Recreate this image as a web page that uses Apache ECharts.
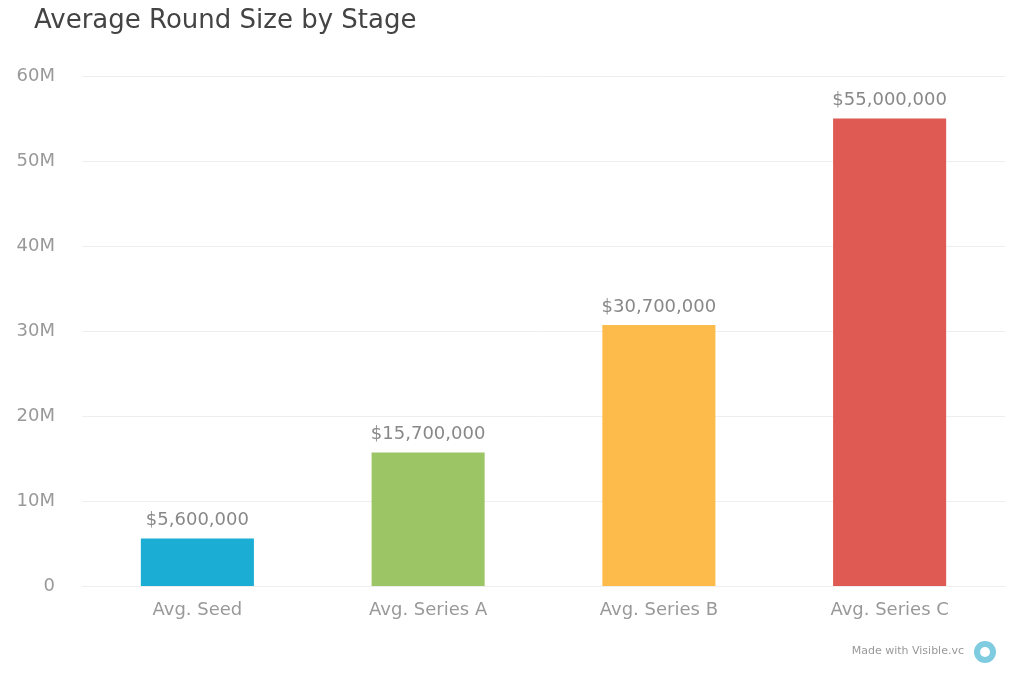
<!DOCTYPE html>
<html><head><meta charset="utf-8">
<script src="https://cdn.jsdelivr.net/npm/echarts@6/dist/echarts.min.js"></script>
<style>html,body{margin:0;padding:0;background:#fff}#c{width:1024px;height:683px}</style>
</head><body><div id="c"></div>
<script>
const categories = ["Avg. Seed","Avg. Series A","Avg. Series B","Avg. Series C"];
const values = [5600000,15700000,30700000,55000000];
const colors = ["#1badd3","#9cc566","#fcbb4a","#de5a52"];
const chart = echarts.init(document.getElementById('c'));
const F = "'DejaVu Sans', Verdana, sans-serif";
chart.setOption({
  animation:false,
  title:{text:"Average Round Size by Stage",left:29,top:3,textStyle:{fontFamily:F,fontSize:26,fontWeight:"normal",color:"#444"}},
  grid:{left:82,right:19,top:76,bottom:97},
  xAxis:{type:"category",data:categories,axisLine:{show:true,lineStyle:{color:"#eee"}},axisTick:{show:false},
    axisLabel:{fontFamily:F,fontSize:18,color:"#999",margin:15}},
  yAxis:{type:"value",min:0,max:60000000,interval:10000000,
    axisLabel:{fontFamily:F,fontSize:18,color:"#999",margin:27,formatter:v=>v===0?"0":(v/1e6)+"M"},
    splitLine:{lineStyle:{color:"#eee"}},axisLine:{show:false},axisTick:{show:false}},
  series:[{type:"bar",barWidth:"49%",
    data:values.map((v,i)=>({value:v,itemStyle:{color:colors[i]}})),
    label:{show:true,position:"top",distance:9,fontFamily:F,fontSize:18,color:"#888",
      formatter:p=>"$"+p.value.toLocaleString("en-US")}}],
  graphic:[
    {type:"text",right:60,top:646,style:{text:"Made with Visible.vc",font:"11px 'DejaVu Sans'",fill:"#999"}},
    {type:"circle",shape:{cx:985,cy:652,r:11},style:{fill:"#7fcbe0"}},
    {type:"circle",shape:{cx:985,cy:652,r:5},style:{fill:"#fff"}}
  ]
});
</script></body></html>
